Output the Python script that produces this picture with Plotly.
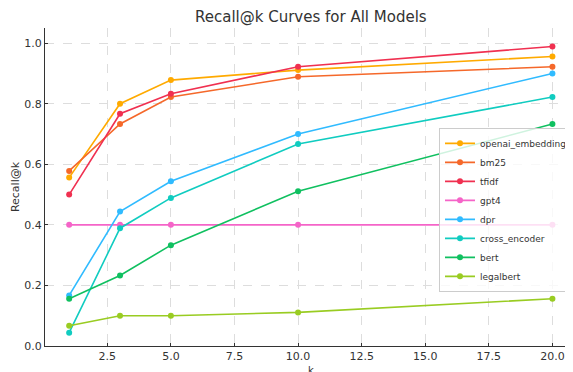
import plotly.graph_objects as go

k_values = [1, 3, 5, 10, 20]
models = ["openai_embedding", "bm25", "tfidf", "gpt4", "dpr", "cross_encoder", "bert", "legalbert"]
openai_embedding = [0.556, 0.800, 0.878, 0.911, 0.956]
bm25 = [0.578, 0.733, 0.822, 0.889, 0.922]
tfidf = [0.500, 0.767, 0.833, 0.922, 0.989]
gpt4 = [0.400, 0.400, 0.400, 0.400, 0.400]
dpr = [0.167, 0.444, 0.544, 0.700, 0.900]
cross_encoder = [0.044, 0.389, 0.489, 0.667, 0.822]
bert = [0.156, 0.233, 0.333, 0.511, 0.733]
legalbert = [0.067, 0.100, 0.100, 0.111, 0.156]
colors = ["#FFAA00", "#F5682A", "#F03050", "#F564C8", "#30BBFF", "#10CCC0", "#10C060", "#99CC22"]

series = [openai_embedding, bm25, tfidf, gpt4, dpr, cross_encoder, bert, legalbert]

fig = go.Figure()
for name, vals, c in zip(models, series, colors):
    fig.add_trace(go.Scatter(x=k_values, y=vals, mode="lines+markers", name=name,
                             line=dict(color=c, width=1.6), marker=dict(color=c, size=6)))

fig.update_layout(
    width=565, height=364,
    margin=dict(l=37, r=1, t=20, b=26, autoexpand=False),
    paper_bgcolor="white", plot_bgcolor="white",
    font=dict(family="DejaVu Sans", size=11, color="#333333"),
    title=dict(text="Recall@k Curves for All Models", x=0.536, xanchor="center", y=0.975, yanchor="middle",
               font=dict(size=15, color="#333333")),
    legend=dict(x=1.0, y=0.686, xanchor="right", yanchor="top", bgcolor="rgba(255,255,255,0.8)",
                bordercolor="#cccccc", borderwidth=1, font=dict(size=9, color="#333333"),
                itemsizing="trace", tracegroupgap=0, itemwidth=30),
    showlegend=True,
)
fig.add_annotation(text="k", xref="paper", yref="paper", x=0.504, y=-0.076,
                   xanchor="center", yanchor="middle", showarrow=False,
                   font=dict(size=10, color="#333333"))
fig.update_xaxes(range=[0.05, 20.77], tickvals=[2.5, 5, 7.5, 10, 12.5, 15, 17.5, 20],
                 ticktext=["2.5", "5.0", "7.5", "10.0", "12.5", "15.0", "17.5", "20.0"],
                 showgrid=True, gridcolor="#dddddd", griddash="dash", gridwidth=0.8,
                 showline=True, linecolor="#333333", linewidth=1, ticks="inside", ticklen=3,
                 tickcolor="#333333", zeroline=False)
fig.update_yaxes(range=[0, 1.05], tickvals=[0, 0.2, 0.4, 0.6, 0.8, 1.0],
                 ticktext=["0.0", "0.2", "0.4", "0.6", "0.8", "1.0"],
                 showgrid=True, gridcolor="#dddddd", griddash="dash", gridwidth=0.8,
                 showline=True, linecolor="#333333", linewidth=1, ticks="inside", ticklen=3,
                 tickcolor="#333333", zeroline=False,
                 title=dict(text="Recall@k", standoff=2, font=dict(size=11)))

fig.write_html("out.html")
